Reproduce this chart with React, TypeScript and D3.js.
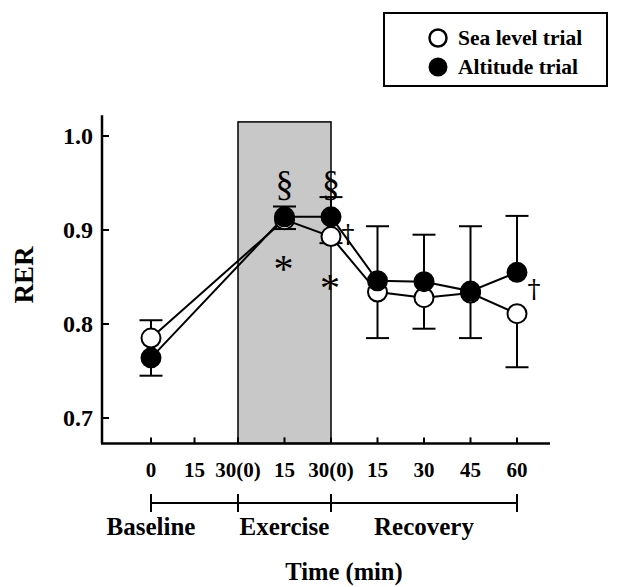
import * as d3 from "d3";

// time points along the x axis (index 0..8)
const timeLabels = ["0", "15", "30(0)", "15", "30(0)", "15", "30", "45", "60"];
const yTicks = [0.7, 0.8, 0.9, 1.0];

// measured time points (indices into timeLabels)
const sampleIdx = [0, 3, 4, 5, 6, 7, 8];
const seaLevelMean = [0.785, 0.911, 0.893, 0.834, 0.828, 0.833, 0.811];
const seaLevelSD = [0.019, 0.01, 0.007, 0.049, 0.033, 0.048, 0.057];
const altitudeMean = [0.764, 0.914, 0.914, 0.846, 0.845, 0.835, 0.855];
const altitudeSD = [0.019, 0.011, 0.021, 0.058, 0.05, 0.069, 0.06];

const periods = [
  { name: "Baseline", from: 0, to: 2 },
  { name: "Exercise", from: 2, to: 4 },
  { name: "Recovery", from: 4, to: 8 },
];

// significance symbols: § above, * below, † to the right
const sectionIdx = [3, 4];
const asteriskIdx = [3, 4];
const daggerIdx = [4, 8];

const FONT = "'Liberation Serif', 'Times New Roman', serif";

export default function App() {
  const x = d3.scaleLinear().domain([0, 2, 8]).range([151, 238, 517]);
  const y = d3.scaleLinear().domain([0.7, 1.0]).range([418, 136]);

  const axisX = 102;
  const axisY = y(0.673);
  const r = 9.5;
  const cap = 11.5;

  const sea = sampleIdx.map((i, k) => ({ i, m: seaLevelMean[k], sd: seaLevelSD[k] }));
  const alt = sampleIdx.map((i, k) => ({ i, m: altitudeMean[k], sd: altitudeSD[k] }));

  const line = d3
    .line<{ i: number; m: number }>()
    .x((d) => x(d.i))
    .y((d) => y(d.m));

  // higher series gets the upward bar, lower one the downward bar
  const bars = sampleIdx.flatMap((i, k) => {
    const s = sea[k];
    const a = alt[k];
    const up = a.m >= s.m ? a : s;
    const down = a.m >= s.m ? s : a;
    return [
      { i, from: up.m, to: up.m + up.sd },
      { i, from: down.m, to: down.m - down.sd },
    ];
  });

  return (
    <div style={{ position: "absolute", left: 0, top: 0 }}>
      <svg width={620} height={587} style={{ display: "block", background: "#fff" }} fontFamily={FONT}>
        {/* exercise period shading */}
        <rect
          x={x(2)}
          y={y(1.015)}
          width={x(4) - x(2)}
          height={axisY - y(1.015)}
          fill="#c8c8c8"
          stroke="#000"
          strokeWidth={1.5}
        />

        {/* axes */}
        <line x1={axisX} x2={axisX} y1={y(1.022)} y2={axisY} stroke="#000" strokeWidth={2.5} />
        <line x1={axisX - 1} x2={550} y1={axisY} y2={axisY} stroke="#000" strokeWidth={2.5} />
        {yTicks.map((t) => (
          <g key={t}>
            <line x1={axisX} x2={axisX + 7} y1={y(t)} y2={y(t)} stroke="#000" strokeWidth={2} />
            <text x={93} y={y(t) + 8} textAnchor="end" fontSize={24} fontWeight="bold">
              {t.toFixed(1)}
            </text>
          </g>
        ))}
        {timeLabels.map((lab, i) => (
          <g key={i}>
            <line x1={x(i)} x2={x(i)} y1={axisY} y2={axisY - 6} stroke="#000" strokeWidth={2} />
            <text x={x(i)} y={477} textAnchor="middle" fontSize={21} fontWeight="bold">
              {lab}
            </text>
          </g>
        ))}

        {/* period brackets */}
        <line x1={x(0)} x2={x(8)} y1={503} y2={503} stroke="#000" strokeWidth={2} />
        {[0, 2, 4, 8].map((i) => (
          <line key={i} x1={x(i)} x2={x(i)} y1={494} y2={512} stroke="#000" strokeWidth={2} />
        ))}
        {periods.map((p) => (
          <text
            key={p.name}
            x={p.name === "Baseline" ? x(p.from) : (x(p.from) + x(p.to)) / 2}
            y={535}
            textAnchor="middle"
            fontSize={25}
            fontWeight="bold"
          >
            {p.name}
          </text>
        ))}
        <text x={344} y={580} textAnchor="middle" fontSize={24.5} fontWeight="bold">
          Time (min)
        </text>
        <text
          transform="translate(33,275) rotate(-90)"
          textAnchor="middle"
          fontSize={27}
          fontWeight="bold"
        >
          RER
        </text>

        {/* series lines */}
        <path d={line(sea) ?? ""} fill="none" stroke="#000" strokeWidth={2} />
        <path d={line(alt) ?? ""} fill="none" stroke="#000" strokeWidth={2} />

        {/* error bars */}
        {bars.map((b, k) => (
          <g key={k} stroke="#000" strokeWidth={2}>
            <line x1={x(b.i)} x2={x(b.i)} y1={y(b.from)} y2={y(b.to)} />
            <line x1={x(b.i) - cap} x2={x(b.i) + cap} y1={y(b.to)} y2={y(b.to)} />
          </g>
        ))}

        {/* markers */}
        {sea.map((d) => (
          <circle key={"s" + d.i} cx={x(d.i)} cy={y(d.m)} r={r} fill="#fff" stroke="#000" strokeWidth={2} />
        ))}
        {alt.map((d) => (
          <circle key={"a" + d.i} cx={x(d.i)} cy={y(d.m)} r={r} fill="#000" stroke="#000" strokeWidth={2} />
        ))}

        {/* significance marks */}
        {sectionIdx.map((i) => (
          <text key={"sec" + i} x={x(i)} y={y(0.9) - 35} textAnchor="middle" fontSize={36} fill="#000">
            §
          </text>
        ))}
        {asteriskIdx.map((i, k) => (
          <text key={"ast" + i} x={x(i) - 1} y={(k === 0 ? 263 : 282) + 19} textAnchor="middle" fontSize={40} fill="#000">
            *
          </text>
        ))}
        {daggerIdx.map((i) => {
          const k = sampleIdx.indexOf(i);
          const m = Math.max(seaLevelMean[k], altitudeMean[k]);
          return (
            <text
              key={"dag" + i}
              x={x(i) + 17}
              y={y(m) + 26}
              textAnchor="middle"
              fontSize={26}
              fill="#000"
              fontFamily="'DejaVu Serif', serif"
            >
              †
            </text>
          );
        })}

        {/* legend */}
        <rect x={384} y={13} width={223} height={73} fill="#fff" stroke="#000" strokeWidth={2} />
        <circle cx={438} cy={38} r={8.5} fill="#fff" stroke="#000" strokeWidth={2.5} />
        <circle cx={438} cy={67} r={8.5} fill="#000" stroke="#000" strokeWidth={2} />
        <text x={458} y={45} fontSize={21.5} fontWeight="bold">
          Sea level trial
        </text>
        <text x={458} y={74} fontSize={21.5} fontWeight="bold">
          Altitude trial
        </text>
      </svg>
    </div>
  );
}
